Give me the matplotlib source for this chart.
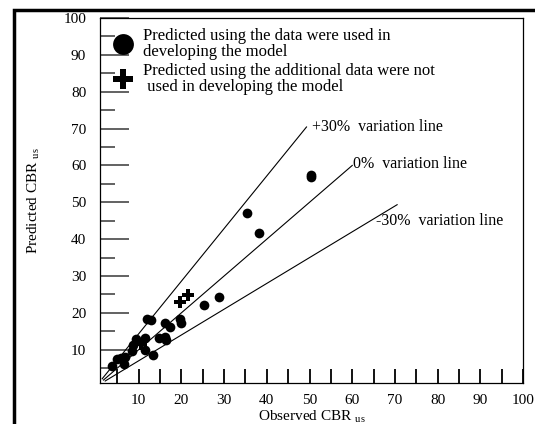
import numpy as np
import matplotlib.pyplot as plt
from matplotlib.lines import Line2D
from matplotlib.patches import Rectangle
from matplotlib.ticker import MultipleLocator

plt.rcParams['font.family'] = 'Liberation Serif'
plt.rcParams['mathtext.fontset'] = 'custom'
plt.rcParams['mathtext.rm'] = 'Liberation Serif'

# points predicted with the data used in developing the model
obs_used = [3.9, 5.0, 5.9, 6.9, 6.6, 8.4, 8.8, 9.4, 11.5, 11.5, 13.3, 11.9, 12.9,
            14.9, 16.3, 16.5, 16.2, 17.3, 19.7, 19.9, 25.4, 28.9, 35.3, 38.2, 50.4, 50.4]
pred_used = [5.5, 7.6, 7.9, 8.0, 6.2, 9.6, 11.2, 13.0, 13.2, 10.0, 8.6, 18.4, 18.0,
             13.3, 13.4, 12.6, 17.2, 16.3, 18.4, 17.3, 22.1, 24.2, 47.2, 41.6, 56.8, 57.3]

# points predicted with the additional data
obs_new = [10.6, 19.6, 21.5]
pred_new = [11.6, 23.0, 24.8]

# variation lines: slope, start x, end x
line_slopes = [1 / 0.7, 1.0, 0.7]
line_x0 = [1.5, 1.8, 2.2]
line_x1 = [49.3, 60.0, 70.5]
line_labels = ['+30%  variation line', '0%  variation line', '-30%  variation line']
label_xy = [(50.5, 70.3), (60.2, 60.5), (65.6, 45.0)]

fig = plt.figure(figsize=(5.35, 4.24), dpi=100)
ax = fig.add_axes([0.187, 0.0967, 0.791, 0.861])

# outer frame
fig.add_artist(Rectangle((0.026, -0.2), 1.2, 1.176, transform=fig.transFigure,
                         fill=False, lw=2.5, ec='black'))

for s, x0, x1, lab, (tx, ty) in zip(line_slopes, line_x0, line_x1, line_labels, label_xy):
    xs = np.array([x0, x1])
    ax.plot(xs, s * xs, color='black', lw=0.8)
    ax.text(tx, ty, lab, ha='left', va='center', fontsize=11.5)

ax.plot(obs_used, pred_used, 'o', color='black', ms=7, mew=0)
ax.plot(obs_new, pred_new, 'P', color='black', ms=8, mew=0)

ax.set_xlim(1, 100)
ax.set_ylim(1, 100)

ax.xaxis.set_major_locator(MultipleLocator(10))
ax.xaxis.set_minor_locator(MultipleLocator(5))
ax.yaxis.set_major_locator(MultipleLocator(10))
ax.yaxis.set_minor_locator(MultipleLocator(5))
ax.tick_params(axis='x', which='both', direction='in', length=10, width=1.3, color='black',
               labelsize=11, pad=8)
ax.tick_params(axis='y', which='major', direction='in', length=21, width=1.3, color='#555555',
               labelsize=11, pad=10)
ax.tick_params(axis='y', which='minor', direction='in', length=11, width=1.3, color='#555555')
for sp in ax.spines.values():
    sp.set_linewidth(0.9)

ax.set_xlabel('Observed CBR $_{\\mathrm{us}}$', fontsize=11, labelpad=1)
ax.set_ylabel('Predicted CBR $_{\\mathrm{us}}$', fontsize=11, labelpad=15)

handles = [Line2D([], [], marker='o', ls='', color='black', ms=15, mew=0),
           Line2D([], [], marker='P', ls='', color='black', ms=14, mew=0)]
leg = ax.legend(handles, ['Predicted using the data were used in\ndeveloping the model',
                          'Predicted using the additional data were not\n used in developing the model'],
                loc='upper left', bbox_to_anchor=(0.0, 1.0), frameon=False, fontsize=12,
                handletextpad=0.45, handlelength=1.5, labelspacing=0.15, borderaxespad=0.3,
                borderpad=0.3)
for t in leg.get_texts():
    t.set_linespacing(1.02)

fig.savefig('out.png', dpi=100)
